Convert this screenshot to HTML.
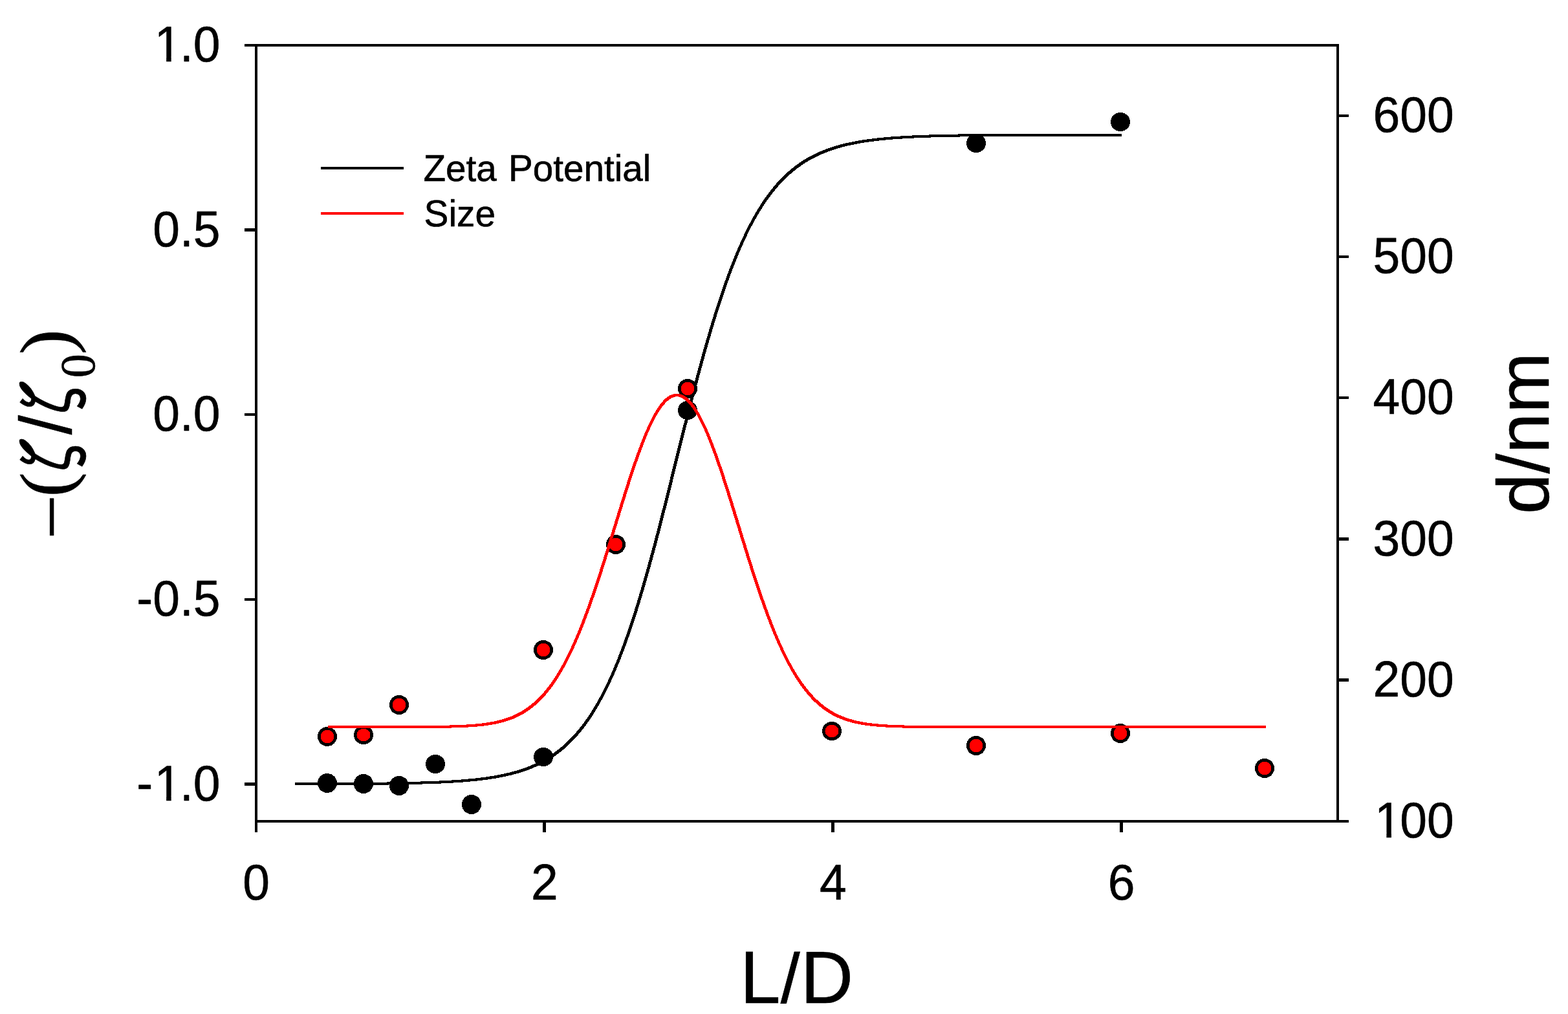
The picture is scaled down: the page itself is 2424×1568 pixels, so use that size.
<!DOCTYPE html>
<html lang="en"><head><meta charset="utf-8"><title>Zeta potential and size vs L/D</title>
<style>html,body{margin:0;padding:0;background:#fff}body{width:2424px;height:1568px;overflow:hidden}svg{display:block}text{font-family:"Liberation Sans",sans-serif;fill:#000;stroke:#000;stroke-width:0.6;stroke-linejoin:round}.ax{fill:#000;shape-rendering:crispEdges}.dt{shape-rendering:crispEdges}.cv{fill:none;stroke-linejoin:round;stroke-linecap:butt;shape-rendering:crispEdges}.se{font-family:"Liberation Serif",serif}.zt{font-family:"IPAGothic","Liberation Serif",serif}</style></head><body>
<svg width="2424" height="1568" viewBox="0 0 2424 1568">
<rect x="0" y="0" width="2424" height="1568" fill="#fff"/>
<g id="axes">
<rect class="ax" x="378" y="68" width="1692" height="4"/>
<rect class="ax" x="394" y="68" width="4" height="1219"/>
<rect class="ax" x="394" y="1268" width="1691" height="4"/>
<rect class="ax" x="2066" y="68" width="4" height="1204"/>
<rect class="ax" x="378" y="353" width="16" height="5"/>
<rect class="ax" x="378" y="639" width="16" height="4"/>
<rect class="ax" x="378" y="925" width="16" height="4"/>
<rect class="ax" x="378" y="1210" width="16" height="5"/>
<rect class="ax" x="2070" y="177" width="15" height="4"/>
<rect class="ax" x="2070" y="395" width="15" height="4"/>
<rect class="ax" x="2070" y="613" width="15" height="4"/>
<rect class="ax" x="2070" y="831" width="15" height="5"/>
<rect class="ax" x="2070" y="1049" width="15" height="5"/>
<rect class="ax" x="839" y="1272" width="5" height="15"/>
<rect class="ax" x="1285" y="1272" width="5" height="15"/>
<rect class="ax" x="1731" y="1272" width="5" height="15"/>
</g>
<g id="ticklabels">
<clipPath id="k1"><path clip-rule="evenodd" d="M-20 -80H124.3V20H-20Z M5.50 -6.89H20.91V2.25H5.50Z M28.43 -6.89H43.00V2.25H28.43Z"/></clipPath>
<g transform="translate(236.24 95.00) scale(1 1.040)"><text clip-path="url(#k1)" font-size="75"><tspan dx="2.5">1</tspan><tspan dx="-2.5">.0</tspan></text></g>
<text transform="translate(236.24 380.71) scale(1 1.040)" font-size="75">0.5</text>
<text transform="translate(236.24 666.43) scale(1 1.040)" font-size="75">0.0</text>
<text transform="translate(211.26 952.14) scale(1 1.040)" font-size="75">-0.5</text>
<clipPath id="k2"><path clip-rule="evenodd" d="M-20 -80H149.2V20H-20Z M30.48 -6.89H45.89V2.25H30.48Z M53.41 -6.89H67.98V2.25H53.41Z"/></clipPath>
<g transform="translate(211.26 1237.86) scale(1 1.040)"><text clip-path="url(#k2)" font-size="75">-<tspan dx="2.5">1</tspan><tspan dx="-2.5">.0</tspan></text></g>
<text transform="translate(2122.50 204.09) scale(1 1.040)" font-size="75">600</text>
<text transform="translate(2122.50 422.27) scale(1 1.040)" font-size="75">500</text>
<text transform="translate(2122.50 640.45) scale(1 1.040)" font-size="75">400</text>
<text transform="translate(2122.50 858.64) scale(1 1.040)" font-size="75">300</text>
<text transform="translate(2122.50 1076.82) scale(1 1.040)" font-size="75">200</text>
<clipPath id="k3"><path clip-rule="evenodd" d="M-20 -80H145.1V20H-20Z M5.50 -6.89H20.91V2.25H5.50Z M28.43 -6.89H43.00V2.25H28.43Z"/></clipPath>
<g transform="translate(2122.50 1295.00) scale(1 1.040)"><text clip-path="url(#k3)" font-size="75"><tspan dx="2.5">1</tspan><tspan dx="-2.5">00</tspan></text></g>
<text transform="translate(375.14 1391.00) scale(1 1.040)" font-size="75">0</text>
<text transform="translate(821.01 1391.00) scale(1 1.040)" font-size="75">2</text>
<text transform="translate(1266.88 1391.00) scale(1 1.040)" font-size="75">4</text>
<text transform="translate(1712.74 1391.00) scale(1 1.040)" font-size="75">6</text>
</g>
<g id="data">
<path class="cv" stroke="#000" stroke-width="4.7" d="M456 1212H599L600 1211H651L652 1210H680L681 1209H699L700 1208H714L715 1207H725L726 1206H736L737 1205H744L745 1204H752L753 1203H758L759 1202H765L766 1201H770L771 1200H775L776 1199H780L781 1198H784L785 1197H789L790 1196H792L793 1195H796L797 1194H800L801 1193H803L804 1192H806L807 1191H809L810 1190H812L813 1189H815L816 1188H817L818 1187H820L821 1186H822L823 1185H824L825 1184H827L828 1183H829L830 1182H831L832 1181H833L834 1180H835L836 1179H837L838 1178H839L840 1177H841L842 1176L843 1175H844L845 1174H846L847 1173H848L849 1172L850 1171H851L852 1170L853 1169H854L855 1168L856 1167H857L858 1166L859 1165L860 1164H861L862 1163L863 1162L864 1161H865L866 1160L867 1159L868 1158L869 1157H870L871 1156L872 1155L873 1154L874 1153L875 1152L876 1151L877 1150L878 1149L879 1148L880 1147L881 1146L882 1145L883 1144L884 1143L885 1142L886 1141L887 1140L888 1139L889 1138L890 1137L891 1136L892 1135L893 1133L894 1132L895 1131L896 1130L897 1129L898 1127L899 1126L900 1125L901 1124L902 1122L903 1121L904 1120L905 1118L906 1117L907 1115L908 1114L909 1113L910 1111L911 1110L912 1108L913 1107L914 1105L915 1104L916 1102L917 1100L918 1099L919 1097L920 1095L921 1094L922 1092L923 1090L924 1089L925 1087L926 1085L927 1083L928 1081L929 1080L930 1078L931 1076L932 1074L933 1072L934 1070L935 1068L936 1066L937 1064L938 1062L939 1060L940 1058L941 1056L942 1054L943 1051L944 1049L945 1047L946 1045L947 1043L948 1040L949 1038L950 1036L951 1033L952 1031L953 1028L954 1026L955 1024L956 1021L957 1019L958 1016L959 1013L960 1011L961 1008L962 1006L963 1003L964 1000L965 998L966 995L967 992L968 989L969 986L970 984L971 981L972 978L973 975L974 972L975 969L976 966L977 963L978 960L979 957L980 954L981 951L982 948L983 945L984 941L985 938L986 935L987 932L988 928L989 925L990 922L991 918L992 915L993 912L994 908L995 905L996 901L997 898L998 894L999 891L1000 887L1001 884L1002 880L1003 877L1004 873L1005 869L1006 866L1007 862L1008 858L1009 855L1010 851L1011 847L1012 844L1013 840L1014 836L1015 832L1016 828L1017 825L1018 821L1019 817L1020 813L1021 809L1022 805L1023 801L1024 797L1025 793L1026 789L1027 786L1028 782L1029 778L1030 774L1031 770L1032 766L1033 762L1034 758L1035 754L1036 750L1037 746L1038 742L1039 737L1040 733L1041 729L1042 725L1043 721L1044 717L1045 713L1046 709L1047 705L1048 701L1049 697L1050 693L1051 689L1052 685L1053 681L1054 677L1055 673L1056 669L1057 665L1058 661L1059 657L1060 654L1061 650L1062 646L1063 642L1064 638L1065 634L1066 630L1067 626L1068 622L1069 618L1070 614L1071 611L1072 607L1073 603L1074 599L1075 595L1076 592L1077 588L1078 584L1079 580L1080 577L1081 573L1082 569L1083 566L1084 562L1085 558L1086 555L1087 551L1088 547L1089 544L1090 540L1091 537L1092 533L1093 530L1094 526L1095 523L1096 520L1097 516L1098 513L1099 509L1100 506L1101 503L1102 499L1103 496L1104 493L1105 490L1106 486L1107 483L1108 480L1109 477L1110 474L1111 471L1112 468L1113 465L1114 462L1115 459L1116 456L1117 453L1118 450L1119 447L1120 444L1121 441L1122 438L1123 435L1124 433L1125 430L1126 427L1127 424L1128 422L1129 419L1130 416L1131 414L1132 411L1133 409L1134 406L1135 404L1136 401L1137 399L1138 396L1139 394L1140 391L1141 389L1142 387L1143 384L1144 382L1145 380L1146 378L1147 375L1148 373L1149 371L1150 369L1151 367L1152 365L1153 362L1154 360L1155 358L1156 356L1157 354L1158 352L1159 350L1160 348L1161 347L1162 345L1163 343L1164 341L1165 339L1166 337L1167 336L1168 334L1169 332L1170 330L1171 329L1172 327L1173 325L1174 324L1175 322L1176 321L1177 319L1178 317L1179 316L1180 314L1181 313L1182 311L1183 310L1184 308L1185 307L1186 306L1187 304L1188 303L1189 302L1190 300L1191 299L1192 298L1193 296L1194 295L1195 294L1196 293L1197 291L1198 290L1199 289L1200 288L1201 287L1202 285L1203 284L1204 283L1205 282L1206 281L1207 280L1208 279L1209 278L1210 277L1211 276L1212 275L1213 274L1214 273L1215 272L1216 271L1217 270L1218 269L1219 268L1220 267H1221L1222 266L1223 265L1224 264L1225 263L1226 262H1227L1228 261L1229 260L1230 259L1231 258H1232L1233 257L1234 256H1235L1236 255L1237 254L1238 253H1239L1240 252L1241 251H1242L1243 250L1244 249H1245L1246 248H1247L1248 247L1249 246H1250L1251 245H1252L1253 244H1254L1255 243H1256L1257 242H1258L1259 241H1260L1261 240H1262L1263 239H1264L1265 238H1266L1267 237H1268L1269 236H1271L1272 235H1273L1274 234H1276L1277 233H1278L1279 232H1281L1282 231H1284L1285 230H1287L1288 229H1290L1291 228H1293L1294 227H1297L1298 226H1300L1301 225H1304L1305 224H1308L1309 223H1313L1314 222H1318L1319 221H1323L1324 220H1328L1329 219H1334L1335 218H1341L1342 217H1349L1350 216H1357L1358 215H1367L1368 214H1378L1379 213H1393L1394 212H1411L1412 211H1437L1438 210H1482L1483 209H1734"/>
<ellipse class="dt" cx="506" cy="1211" rx="15" ry="15" fill="#000"/>
<ellipse class="dt" cx="562" cy="1212" rx="15" ry="15" fill="#000"/>
<ellipse class="dt" cx="617" cy="1215" rx="15" ry="15" fill="#000"/>
<ellipse class="dt" cx="673" cy="1181.5" rx="15" ry="14.5" fill="#000"/>
<ellipse class="dt" cx="729" cy="1244" rx="15" ry="15" fill="#000"/>
<ellipse class="dt" cx="840" cy="1170.5" rx="15" ry="14.5" fill="#000"/>
<ellipse class="dt" cx="1063" cy="634.5" rx="15" ry="14.5" fill="#000"/>
<ellipse class="dt" cx="1509" cy="221.5" rx="15" ry="14.5" fill="#000"/>
<ellipse class="dt" cx="1732" cy="188.5" rx="15" ry="14.5" fill="#000"/>
<ellipse class="dt" cx="506" cy="1139" rx="12.75" ry="12.75" fill="#f00" stroke="#000" stroke-width="4.5"/>
<ellipse class="dt" cx="562" cy="1136.5" rx="12.75" ry="12.25" fill="#f00" stroke="#000" stroke-width="4.5"/>
<ellipse class="dt" cx="617" cy="1090" rx="12.75" ry="12.75" fill="#f00" stroke="#000" stroke-width="4.5"/>
<ellipse class="dt" cx="840" cy="1005" rx="12.75" ry="12.75" fill="#f00" stroke="#000" stroke-width="4.5"/>
<ellipse class="dt" cx="952" cy="842" rx="12.75" ry="12.75" fill="#f00" stroke="#000" stroke-width="4.5"/>
<ellipse class="dt" cx="1063" cy="601" rx="12.75" ry="12.75" fill="#f00" stroke="#000" stroke-width="4.5"/>
<ellipse class="dt" cx="1286" cy="1130.5" rx="12.75" ry="12.25" fill="#f00" stroke="#000" stroke-width="4.5"/>
<ellipse class="dt" cx="1509" cy="1153" rx="12.75" ry="12.75" fill="#f00" stroke="#000" stroke-width="4.5"/>
<ellipse class="dt" cx="1732" cy="1134" rx="12.75" ry="12.75" fill="#f00" stroke="#000" stroke-width="4.5"/>
<ellipse class="dt" cx="1955" cy="1188" rx="12.75" ry="12.75" fill="#f00" stroke="#000" stroke-width="4.5"/>
<path class="cv" stroke="#f00" stroke-width="4.7" d="M507 1124H696L697 1123H722L723 1122H736L737 1121H746L747 1120H753L754 1119H759L760 1118H765L766 1117H769L770 1116H773L774 1115H777L778 1114H780L781 1113H783L784 1112H786L787 1111H789L790 1110H792L793 1109H794L795 1108H796L797 1107H798L799 1106H800L801 1105H802L803 1104H804L805 1103H806L807 1102H808L809 1101L810 1100H811L812 1099L813 1098H814L815 1097L816 1096H817L818 1095L819 1094L820 1093H821L822 1092L823 1091L824 1090L825 1089H826L827 1088L828 1087L829 1086L830 1085L831 1084L832 1083L833 1082L834 1081L835 1080L836 1079L837 1078L838 1077L839 1076L840 1075L841 1074L842 1073L843 1071L844 1070L845 1069L846 1068L847 1066L848 1065L849 1064L850 1063L851 1061L852 1060L853 1059L854 1057L855 1056L856 1054L857 1053L858 1051L859 1050L860 1048L861 1047L862 1045L863 1043L864 1042L865 1040L866 1038L867 1037L868 1035L869 1033L870 1031L871 1030L872 1028L873 1026L874 1024L875 1022L876 1020L877 1018L878 1016L879 1014L880 1012L881 1010L882 1008L883 1006L884 1004L885 1002L886 999L887 997L888 995L889 993L890 990L891 988L892 986L893 983L894 981L895 979L896 976L897 974L898 971L899 969L900 966L901 964L902 961L903 958L904 956L905 953L906 950L907 948L908 945L909 942L910 940L911 937L912 934L913 931L914 928L915 925L916 923L917 920L918 917L919 914L920 911L921 908L922 905L923 902L924 899L925 896L926 893L927 890L928 887L929 884L930 880L931 877L932 874L933 871L934 868L935 865L936 861L937 858L938 855L939 852L940 849L941 845L942 842L943 839L944 836L945 832L946 829L947 826L948 823L949 819L950 816L951 813L952 810L953 806L954 803L955 800L956 797L957 793L958 790L959 787L960 784L961 780L962 777L963 774L964 771L965 768L966 764L967 761L968 758L969 755L970 752L971 749L972 745L973 742L974 739L975 736L976 733L977 730L978 727L979 724L980 721L981 718L982 715L983 713L984 710L985 707L986 704L987 701L988 699L989 696L990 693L991 691L992 688L993 685L994 683L995 680L996 678L997 675L998 673L999 670L1000 668L1001 666L1002 664L1003 661L1004 659L1005 657L1006 655L1007 653L1008 651L1009 649L1010 647L1011 645L1012 643L1013 641L1014 640L1015 638L1016 636L1017 635L1018 633L1019 632L1020 630L1021 629L1022 627L1023 626L1024 625L1025 624L1026 623L1027 621L1028 620L1029 619L1030 618H1031L1032 617L1033 616L1034 615H1035L1036 614L1037 613H1039L1040 612H1042L1043 611H1050L1051 612H1053L1054 613H1055L1056 614H1057L1058 615L1059 616H1060L1061 617L1062 618L1063 619L1064 620L1065 621L1066 622L1067 623L1068 624L1069 625L1070 627L1071 628L1072 629L1073 631L1074 632L1075 634L1076 635L1077 637L1078 639L1079 640L1080 642L1081 644L1082 646L1083 648L1084 650L1085 652L1086 654L1087 656L1088 658L1089 660L1090 662L1091 664L1092 667L1093 669L1094 671L1095 674L1096 676L1097 679L1098 681L1099 684L1100 686L1101 689L1102 692L1103 694L1104 697L1105 700L1106 702L1107 705L1108 708L1109 711L1110 714L1111 717L1112 720L1113 722L1114 725L1115 728L1116 731L1117 734L1118 737L1119 741L1120 744L1121 747L1122 750L1123 753L1124 756L1125 759L1126 762L1127 766L1128 769L1129 772L1130 775L1131 778L1132 782L1133 785L1134 788L1135 791L1136 795L1137 798L1138 801L1139 804L1140 808L1141 811L1142 814L1143 817L1144 821L1145 824L1146 827L1147 831L1148 834L1149 837L1150 840L1151 843L1152 847L1153 850L1154 853L1155 856L1156 860L1157 863L1158 866L1159 869L1160 872L1161 875L1162 879L1163 882L1164 885L1165 888L1166 891L1167 894L1168 897L1169 900L1170 903L1171 906L1172 909L1173 912L1174 915L1175 918L1176 921L1177 924L1178 927L1179 929L1180 932L1181 935L1182 938L1183 941L1184 943L1185 946L1186 949L1187 952L1188 954L1189 957L1190 959L1191 962L1192 965L1193 967L1194 970L1195 972L1196 975L1197 977L1198 980L1199 982L1200 984L1201 987L1202 989L1203 991L1204 994L1205 996L1206 998L1207 1000L1208 1002L1209 1005L1210 1007L1211 1009L1212 1011L1213 1013L1214 1015L1215 1017L1216 1019L1217 1021L1218 1023L1219 1025L1220 1027L1221 1028L1222 1030L1223 1032L1224 1034L1225 1036L1226 1037L1227 1039L1228 1041L1229 1042L1230 1044L1231 1046L1232 1047L1233 1049L1234 1050L1235 1052L1236 1053L1237 1055L1238 1056L1239 1058L1240 1059L1241 1060L1242 1062L1243 1063L1244 1064L1245 1066L1246 1067L1247 1068L1248 1069L1249 1071L1250 1072L1251 1073L1252 1074L1253 1075L1254 1076L1255 1077L1256 1079L1257 1080L1258 1081L1259 1082L1260 1083L1261 1084H1262L1263 1085L1264 1086L1265 1087L1266 1088L1267 1089L1268 1090L1269 1091H1270L1271 1092L1272 1093L1273 1094L1274 1095H1275L1276 1096L1277 1097H1278L1279 1098L1280 1099H1281L1282 1100L1283 1101H1284L1285 1102H1286L1287 1103L1288 1104H1289L1290 1105H1291L1292 1106H1293L1294 1107H1295L1296 1108H1298L1299 1109H1300L1301 1110H1303L1304 1111H1305L1306 1112H1308L1309 1113H1311L1312 1114H1315L1316 1115H1318L1319 1116H1322L1323 1117H1327L1328 1118H1332L1333 1119H1338L1339 1120H1346L1347 1121H1356L1357 1122H1370L1371 1123H1396L1397 1124H1957"/>
</g>
<g id="legend">
<rect class="ax" x="496" y="258" width="128" height="4"/>
<rect x="496" y="328" width="128" height="4" fill="#f00" shape-rendering="crispEdges"/>
<text transform="translate(654.5 279.8) scale(1.007 1.03)" font-size="56.25">Zeta <tspan dx="2.4">Potential</tspan></text>
<text transform="translate(655.6 350.2) scale(1.01 1.03)" font-size="56.25">Size</text>
</g>
<g id="labels">
<clipPath id="kx"><rect x="-5" y="-77.95" width="190" height="78.4"/></clipPath>
<g id="xlabel" transform="translate(1144.0 1551.45) scale(1 1.0241)"><text clip-path="url(#kx)" font-size="112.5">L/D</text></g>
<text transform="translate(2394.4 670) rotate(-90)" font-size="112.5" text-anchor="middle">d/nm</text>
<g id="ylabel">
<text transform="rotate(-90) translate(-827.20 106.97) scale(0.9904 1.0311)" font-size="112.5" class="se" stroke-width="0">–</text>
<text transform="rotate(-90) translate(-768.61 108.62) scale(1.0183 0.9907)" font-size="112.5" class="se">(</text>
<text transform="rotate(-90) translate(-751.53 122.47) scale(0.8228 1.0507)" font-size="112.5" class="zt">ζ</text>
<text transform="rotate(-90) translate(-672.20 109.68) scale(0.9706 0.9989)" font-size="112.5">/</text>
<text transform="rotate(-90) translate(-662.58 122.47) scale(0.8211 1.0507)" font-size="112.5" class="zt">ζ</text>
<text transform="rotate(-90) translate(-584.37 145.94) scale(0.9851 1.0133)" font-size="75" class="se">0</text>
<text transform="rotate(-90) translate(-548.20 108.62) scale(1.0407 0.9907)" font-size="112.5" class="se">)</text>
</g>
</g>
</svg></body></html>
